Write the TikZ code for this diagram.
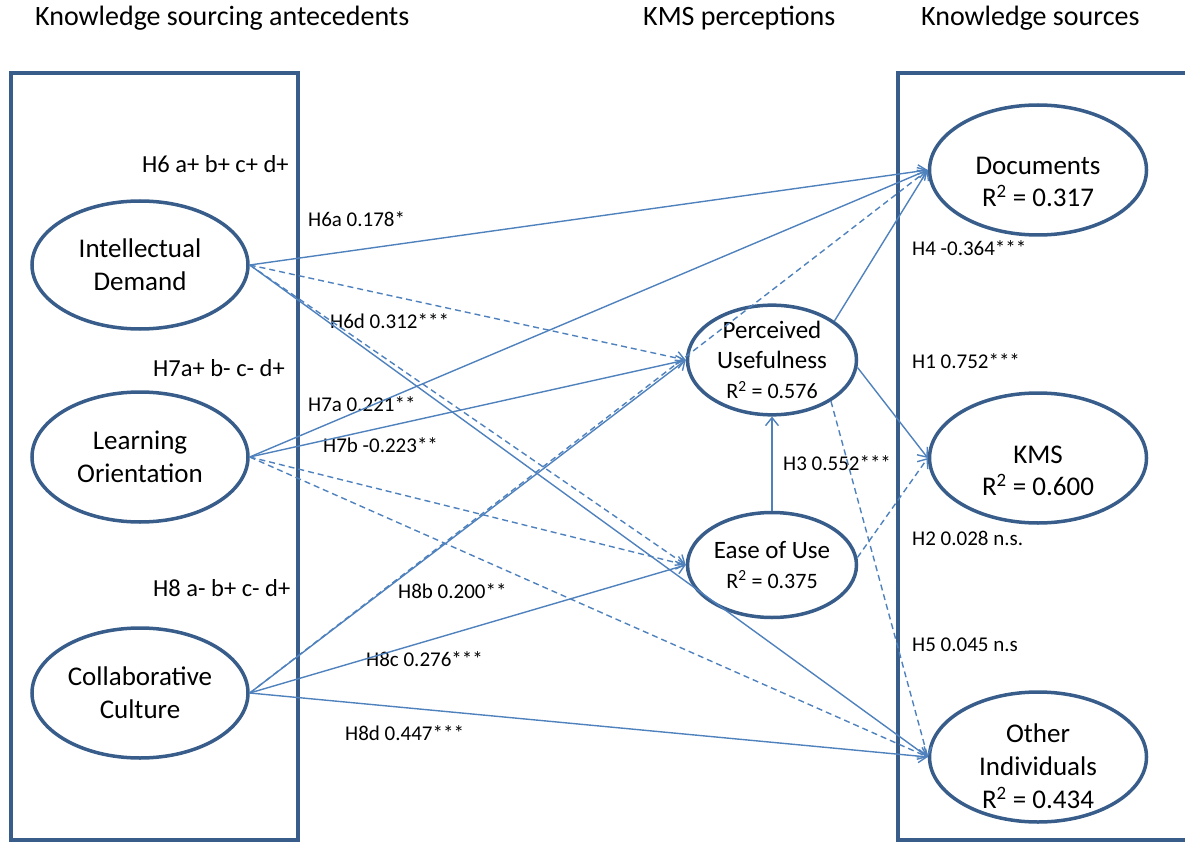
\documentclass[tikz,border=0pt]{standalone}
\usepackage{fontspec}
\setmainfont{Carlito}
\usetikzlibrary{arrows.meta,shapes.geometric}
\definecolor{lineblue}{HTML}{4F81BD}
\definecolor{rimblue}{HTML}{385D8A}
\begin{document}
\begin{tikzpicture}[x=1pt, y=-1pt,
  latent/.style={ellipse, draw=rimblue, line width=3.5pt, inner sep=0pt, align=center, font=\fontsize{27}{33}\selectfont},
  midlatent/.style={latent, font=\fontsize{25}{30}\selectfont},
  caption/.style={anchor=west, inner sep=0pt, text height=0.64em, text depth=0pt, font=\fontsize{28}{34}\selectfont},
  hypgroup/.style={anchor=west, inner sep=0pt, text height=0.64em, text depth=0pt, font=\fontsize{24.5}{30}\selectfont},
  coef/.style={anchor=west, inner sep=0pt, text height=0.64em, text depth=0pt, font=\fontsize{21}{25}\selectfont},
  sig/.style={draw=lineblue, line width=1.4pt, -{Straight Barb[length=8pt,width=13pt]}},
  ns/.style={sig, dash pattern=on 6pt off 4pt}]
\useasboundingbox (0,0) rectangle (1185,842);
\draw[rimblue, line width=3.5pt] (11,840) rectangle (298,73);
\draw[rimblue, line width=3.5pt] (898,840) rectangle (1200,73);
\node[caption] (capante) at (35,22) {Knowledge sourcing antecedents};
\node[caption] (capperc) at (643,22) {KMS perceptions};
\node[caption] (capsrc) at (921,22) {Knowledge sources};
\node[latent, minimum width=216, minimum height=128] (id) at (140,265) {Intellectual\\Demand};
\node[latent, minimum width=216, minimum height=130] (lo) at (140,457) {Learning\\Orientation};
\node[latent, minimum width=216, minimum height=130] (cc) at (140,693) {Collaborative\\Culture};
\node[midlatent, minimum width=169, minimum height=95] (pu) at (772,360) {Perceived\\Usefulness\\{\fontsize{22}{27}\selectfont R\textsuperscript{2} = 0.576}};
\node[midlatent, minimum width=169, minimum height=105] (eou) at (772,565) {Ease of Use\\{\fontsize{22}{27}\selectfont R\textsuperscript{2} = 0.375}};
\node[latent, minimum width=217, minimum height=130] (doc) at (1038,170) {};
\node[latent, minimum width=217, minimum height=130] (kms) at (1038,458) {};
\node[latent, minimum width=217, minimum height=130] (oi) at (1038,757) {};
\node[align=center, inner sep=0pt, font=\fontsize{27}{32}\selectfont] (doctext) at (1038,182) {Documents\\R\textsuperscript{2} = 0.317};
\node[align=center, inner sep=0pt, font=\fontsize{27}{32}\selectfont] (kmstext) at (1038,471) {KMS\\R\textsuperscript{2} = 0.600};
\node[align=center, inner sep=0pt, font=\fontsize{27}{33}\selectfont] (oitext) at (1038,766) {Other\\Individuals\\R\textsuperscript{2} = 0.434};
\node[hypgroup] (h6) at (142,169) {H6 a+ b+ c+ d+};
\node[hypgroup] (h7) at (153,373) {H7a+ b- c- d+};
\node[hypgroup] (h8) at (153,593) {H8 a- b+ c- d+};
\node[coef] (h6a) at (308,223) {H6a 0.178*};
\node[coef] (h6d) at (330,325) {H6d 0.312***};
\node[coef] (h7a) at (308,408) {H7a 0.221**};
\node[coef] (h7b) at (323,449) {H7b -0.223**};
\node[coef] (h8b) at (398,595) {H8b 0.200**};
\node[coef] (h8c) at (366,663) {H8c 0.276***};
\node[coef] (h8d) at (345,737) {H8d 0.447***};
\node[coef] (h4) at (912,252) {H4 -0.364***};
\node[coef] (h1) at (912,365) {H1 0.752***};
\node[coef] (h3) at (783,467) {H3 0.552***};
\node[coef] (h2) at (912,542) {H2 0.028 n.s.};
\node[coef] (h5) at (912,648) {H5 0.045 n.s};
\draw[sig](id.east) -- (doc.west);
\draw[ns](id.east) -- (pu.west);
\draw[ns](id.east) -- (eou.west);
\draw[sig](id.east) -- (oi.west);
\draw[sig](lo.east) -- (doc.west);
\draw[sig](lo.east) -- (pu.west);
\draw[ns](lo.east) -- (eou.west);
\draw[ns](lo.east) -- (oi.west);
\draw[ns](cc.east) -- (doc.west);
\draw[sig](cc.east) -- (pu.west);
\draw[sig](cc.east) -- (eou.west);
\draw[sig](cc.east) -- (oi.west);
\draw[sig](pu.32) -- (doc.west);
\draw[sig](pu.-5) -- (kms.west);
\draw[ns](pu.-35) -- (oi.west);
\draw[sig](eou.north) -- (pu.south);
\draw[ns](eou.5) -- (kms.west);
\end{tikzpicture}
\end{document}
